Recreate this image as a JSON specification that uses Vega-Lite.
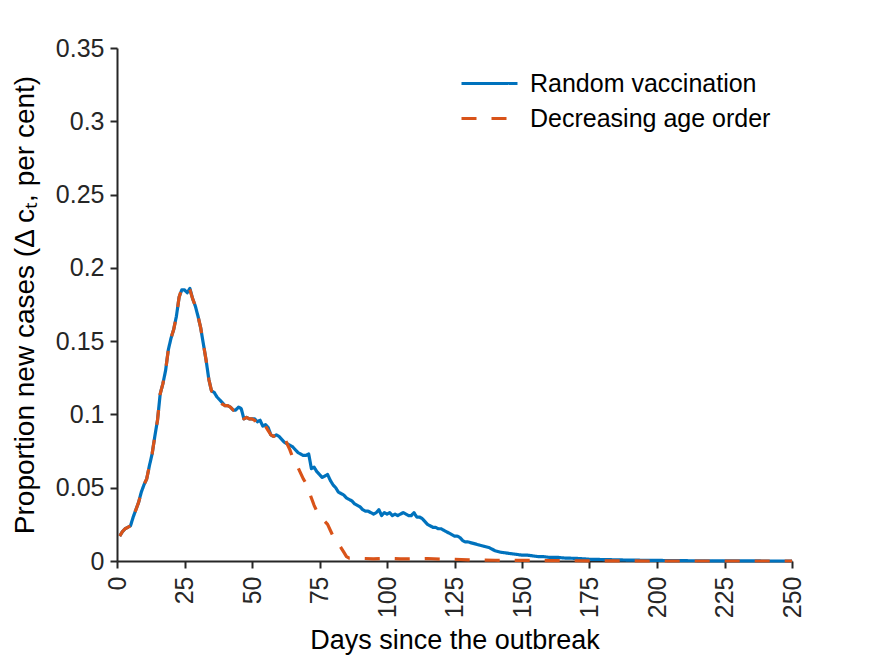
{
  "$schema": "https://vega.github.io/schema/vega-lite/v6.json",
  "description": "Proportion of new cases per day since the outbreak, random vaccination vs decreasing age order.",
  "width": 675,
  "height": 513,
  "autosize": "none",
  "padding": {"left": 117, "top": 48, "right": 83, "bottom": 95},
  "background": "white",
  "datasets": {
    "random": [
      {"day": 1, "value": 0.017}, {"day": 2, "value": 0.02}, {"day": 3, "value": 0.022}, {"day": 4, "value": 0.023},
      {"day": 5, "value": 0.024}, {"day": 6, "value": 0.03}, {"day": 7, "value": 0.035}, {"day": 8, "value": 0.04},
      {"day": 9, "value": 0.047}, {"day": 10, "value": 0.052}, {"day": 11, "value": 0.056}, {"day": 12, "value": 0.065},
      {"day": 13, "value": 0.073}, {"day": 14, "value": 0.085}, {"day": 15, "value": 0.096}, {"day": 16, "value": 0.114},
      {"day": 17, "value": 0.121}, {"day": 18, "value": 0.13}, {"day": 19, "value": 0.144}, {"day": 20, "value": 0.152},
      {"day": 21, "value": 0.158}, {"day": 22, "value": 0.167}, {"day": 23, "value": 0.18}, {"day": 24, "value": 0.185},
      {"day": 25, "value": 0.185}, {"day": 26, "value": 0.183}, {"day": 27, "value": 0.186}, {"day": 28, "value": 0.179},
      {"day": 29, "value": 0.174}, {"day": 30, "value": 0.167}, {"day": 31, "value": 0.159}, {"day": 32, "value": 0.148},
      {"day": 33, "value": 0.137}, {"day": 34, "value": 0.124}, {"day": 35, "value": 0.116}, {"day": 36, "value": 0.115},
      {"day": 37, "value": 0.112}, {"day": 38, "value": 0.11}, {"day": 39, "value": 0.108}, {"day": 40, "value": 0.106},
      {"day": 41, "value": 0.106}, {"day": 42, "value": 0.105}, {"day": 43, "value": 0.103}, {"day": 44, "value": 0.103},
      {"day": 45, "value": 0.105}, {"day": 46, "value": 0.104}, {"day": 47, "value": 0.097}, {"day": 48, "value": 0.098},
      {"day": 49, "value": 0.097}, {"day": 50, "value": 0.097}, {"day": 51, "value": 0.097}, {"day": 52, "value": 0.095},
      {"day": 53, "value": 0.096}, {"day": 54, "value": 0.092}, {"day": 55, "value": 0.093}, {"day": 56, "value": 0.091},
      {"day": 57, "value": 0.086}, {"day": 58, "value": 0.085}, {"day": 59, "value": 0.086}, {"day": 60, "value": 0.085},
      {"day": 61, "value": 0.083}, {"day": 62, "value": 0.081}, {"day": 63, "value": 0.08}, {"day": 64, "value": 0.079},
      {"day": 65, "value": 0.078}, {"day": 66, "value": 0.076}, {"day": 67, "value": 0.074}, {"day": 68, "value": 0.073},
      {"day": 69, "value": 0.072}, {"day": 70, "value": 0.072}, {"day": 71, "value": 0.073}, {"day": 72, "value": 0.063},
      {"day": 73, "value": 0.064}, {"day": 74, "value": 0.061}, {"day": 75, "value": 0.059}, {"day": 76, "value": 0.057},
      {"day": 77, "value": 0.058}, {"day": 78, "value": 0.059}, {"day": 79, "value": 0.055}, {"day": 80, "value": 0.052},
      {"day": 81, "value": 0.05}, {"day": 82, "value": 0.047}, {"day": 83, "value": 0.046}, {"day": 84, "value": 0.045},
      {"day": 85, "value": 0.043}, {"day": 86, "value": 0.042}, {"day": 87, "value": 0.041}, {"day": 88, "value": 0.039},
      {"day": 89, "value": 0.038}, {"day": 90, "value": 0.037}, {"day": 91, "value": 0.035}, {"day": 92, "value": 0.034},
      {"day": 93, "value": 0.034}, {"day": 94, "value": 0.033}, {"day": 95, "value": 0.032}, {"day": 96, "value": 0.033},
      {"day": 97, "value": 0.035}, {"day": 98, "value": 0.031}, {"day": 99, "value": 0.033}, {"day": 100, "value": 0.032},
      {"day": 101, "value": 0.033}, {"day": 102, "value": 0.031}, {"day": 103, "value": 0.032}, {"day": 104, "value": 0.031},
      {"day": 105, "value": 0.032}, {"day": 106, "value": 0.033}, {"day": 107, "value": 0.032}, {"day": 108, "value": 0.031},
      {"day": 109, "value": 0.031}, {"day": 110, "value": 0.033}, {"day": 111, "value": 0.03}, {"day": 112, "value": 0.03},
      {"day": 113, "value": 0.029}, {"day": 114, "value": 0.027}, {"day": 115, "value": 0.025}, {"day": 116, "value": 0.024},
      {"day": 117, "value": 0.023}, {"day": 118, "value": 0.023}, {"day": 119, "value": 0.022}, {"day": 120, "value": 0.022},
      {"day": 121, "value": 0.021}, {"day": 122, "value": 0.02}, {"day": 123, "value": 0.019}, {"day": 124, "value": 0.018},
      {"day": 125, "value": 0.017}, {"day": 126, "value": 0.017}, {"day": 127, "value": 0.016}, {"day": 128, "value": 0.014},
      {"day": 129, "value": 0.013}, {"day": 130, "value": 0.013}, {"day": 132, "value": 0.012}, {"day": 134, "value": 0.011},
      {"day": 136, "value": 0.01}, {"day": 138, "value": 0.009}, {"day": 140, "value": 0.007}, {"day": 142, "value": 0.006},
      {"day": 144, "value": 0.0055}, {"day": 146, "value": 0.005}, {"day": 148, "value": 0.0045}, {"day": 150, "value": 0.004},
      {"day": 152, "value": 0.004}, {"day": 154, "value": 0.0035}, {"day": 156, "value": 0.003}, {"day": 158, "value": 0.003},
      {"day": 160, "value": 0.0025}, {"day": 163, "value": 0.0025}, {"day": 166, "value": 0.002}, {"day": 170, "value": 0.0018},
      {"day": 175, "value": 0.0012}, {"day": 180, "value": 0.001}, {"day": 185, "value": 0.0008}, {"day": 190, "value": 0.0006},
      {"day": 195, "value": 0.0005}, {"day": 200, "value": 0.0004}, {"day": 210, "value": 0.0002}, {"day": 220, "value": 0.0001},
      {"day": 230, "value": 0.0001}, {"day": 240, "value": 0}, {"day": 250, "value": 0}
    ],
    "age": [
      {"day": 1, "value": 0.017}, {"day": 2, "value": 0.02}, {"day": 3, "value": 0.022}, {"day": 4, "value": 0.023},
      {"day": 5, "value": 0.024}, {"day": 6, "value": 0.03}, {"day": 7, "value": 0.035}, {"day": 8, "value": 0.04},
      {"day": 9, "value": 0.047}, {"day": 10, "value": 0.052}, {"day": 11, "value": 0.056}, {"day": 12, "value": 0.065},
      {"day": 13, "value": 0.073}, {"day": 14, "value": 0.085}, {"day": 15, "value": 0.096}, {"day": 16, "value": 0.114},
      {"day": 17, "value": 0.121}, {"day": 18, "value": 0.13}, {"day": 19, "value": 0.144}, {"day": 20, "value": 0.152},
      {"day": 21, "value": 0.158}, {"day": 22, "value": 0.167}, {"day": 23, "value": 0.18}, {"day": 24, "value": 0.186},
      {"day": 25, "value": 0.184}, {"day": 26, "value": 0.186}, {"day": 27, "value": 0.185}, {"day": 28, "value": 0.179},
      {"day": 29, "value": 0.174}, {"day": 30, "value": 0.167}, {"day": 31, "value": 0.159}, {"day": 32, "value": 0.148},
      {"day": 33, "value": 0.137}, {"day": 34, "value": 0.124}, {"day": 35, "value": 0.116}, {"day": 36, "value": 0.115},
      {"day": 37, "value": 0.112}, {"day": 38, "value": 0.109}, {"day": 39, "value": 0.107}, {"day": 40, "value": 0.106},
      {"day": 41, "value": 0.106}, {"day": 42, "value": 0.105}, {"day": 43, "value": 0.103}, {"day": 44, "value": 0.103},
      {"day": 45, "value": 0.104}, {"day": 46, "value": 0.1}, {"day": 47, "value": 0.097}, {"day": 48, "value": 0.098},
      {"day": 49, "value": 0.097}, {"day": 50, "value": 0.097}, {"day": 51, "value": 0.096}, {"day": 52, "value": 0.092},
      {"day": 53, "value": 0.094}, {"day": 54, "value": 0.093}, {"day": 55, "value": 0.092}, {"day": 56, "value": 0.089},
      {"day": 57, "value": 0.086}, {"day": 58, "value": 0.085}, {"day": 59, "value": 0.086}, {"day": 60, "value": 0.087},
      {"day": 61, "value": 0.086}, {"day": 62, "value": 0.084}, {"day": 63, "value": 0.08}, {"day": 64, "value": 0.076},
      {"day": 65, "value": 0.071}, {"day": 66, "value": 0.068}, {"day": 67, "value": 0.064}, {"day": 68, "value": 0.06},
      {"day": 69, "value": 0.056}, {"day": 70, "value": 0.053}, {"day": 71, "value": 0.048}, {"day": 72, "value": 0.043},
      {"day": 73, "value": 0.038}, {"day": 74, "value": 0.034}, {"day": 75, "value": 0.031}, {"day": 76, "value": 0.029},
      {"day": 77, "value": 0.027}, {"day": 78, "value": 0.025}, {"day": 79, "value": 0.021}, {"day": 80, "value": 0.017},
      {"day": 81, "value": 0.015}, {"day": 82, "value": 0.012}, {"day": 83, "value": 0.009}, {"day": 84, "value": 0.006},
      {"day": 85, "value": 0.003}, {"day": 86, "value": 0.002}, {"day": 88, "value": 0.002}, {"day": 90, "value": 0.0018},
      {"day": 95, "value": 0.0015}, {"day": 100, "value": 0.0018}, {"day": 105, "value": 0.0015}, {"day": 110, "value": 0.0015},
      {"day": 115, "value": 0.0017}, {"day": 120, "value": 0.0012}, {"day": 125, "value": 0.0012}, {"day": 130, "value": 0.0008},
      {"day": 135, "value": 0.0007}, {"day": 140, "value": 0.0005}, {"day": 150, "value": 0.0004}, {"day": 160, "value": 0.0003},
      {"day": 175, "value": 0.0001}, {"day": 200, "value": 0}, {"day": 250, "value": 0}
    ]
  },
  "encoding": {
    "x": {
      "field": "day",
      "type": "quantitative",
      "scale": {"domain": [0, 250], "nice": false, "zero": false},
      "axis": {
        "title": "Days since the outbreak",
        "values": [0, 25, 50, 75, 100, 125, 150, 175, 200, 225, 250],
        "labelAngle": 270,
        "labelPadding": 8,
        "titlePadding": 10
      }
    },
    "y": {
      "field": "value",
      "type": "quantitative",
      "scale": {"domain": [0, 0.35], "nice": false},
      "axis": {
        "title": "Proportion new cases (Δ cₜ, per cent)",
        "titleFontSize": 28,
        "values": [0, 0.05, 0.1, 0.15, 0.2, 0.25, 0.3, 0.35],
        "format": "~g",
        "labelPadding": 6,
        "titlePadding": 16
      }
    },
    "color": {
      "field": "series",
      "type": "nominal",
      "scale": {
        "domain": ["Random vaccination", "Decreasing age order"],
        "range": ["#0072BD", "#D95319"]
      },
      "legend": {
        "title": null,
        "orient": "none",
        "legendX": 357,
        "legendY": 20,
        "symbolType": "M -2,0 L 2,0",
        "symbolSize": 784,
        "symbolStrokeWidth": 3,
        "labelOffset": 25,
        "labelFontSize": 25,
        "labelLimit": 0,
        "labelFont": "Liberation Sans",
        "labelColor": "#000000",
        "rowPadding": 6
      }
    },
    "strokeDash": {
      "field": "series",
      "type": "nominal",
      "scale": {
        "domain": ["Random vaccination", "Decreasing age order"],
        "range": [[1, 0], [15, 15]]
      },
      "legend": null
    }
  },
  "layer": [
    {
      "data": {"name": "random"},
      "transform": [{"calculate": "'Random vaccination'", "as": "series"}],
      "mark": {"type": "line", "strokeWidth": 3.2, "strokeCap": "butt", "strokeJoin": "round"}
    },
    {
      "data": {"name": "age"},
      "transform": [{"calculate": "'Decreasing age order'", "as": "series"}],
      "mark": {"type": "line", "strokeWidth": 3.2, "strokeCap": "butt", "strokeJoin": "round"}
    }
  ],
  "config": {
    "view": {"stroke": null},
    "font": "Liberation Sans",
    "axis": {
      "grid": false,
      "domainColor": "#262626",
      "domainWidth": 2,
      "tickColor": "#262626",
      "tickWidth": 2,
      "tickSize": 7,
      "labelFont": "Liberation Sans",
      "labelFontSize": 25,
      "labelColor": "#262626",
      "titleFont": "Liberation Sans",
      "titleFontSize": 27,
      "titleFontWeight": "normal",
      "titleColor": "#000000"
    }
  }
}
